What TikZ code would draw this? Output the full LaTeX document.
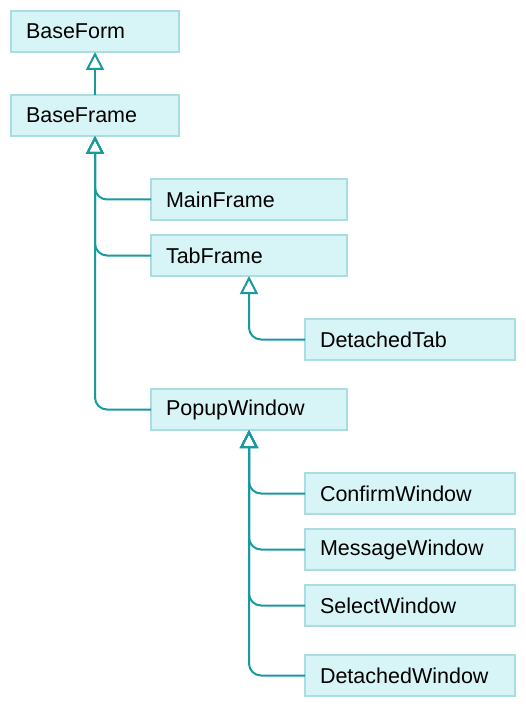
\documentclass[tikz,border=0pt]{standalone}
\usepackage{fontspec}
\setmainfont{Liberation Sans}
\usetikzlibrary{arrows.meta}
\definecolor{boxfill}{HTML}{D7F4F6}
\definecolor{boxline}{HTML}{A9DDE0}
\definecolor{edgecol}{HTML}{1A9A9E}
\begin{document}
\begin{tikzpicture}[x=1pt,y=-1pt,
  cls/.style={draw=boxline, fill=boxfill, line width=2pt, anchor=north west,
    outer sep=0pt,
    minimum height=41pt, minimum width=#1pt, text width=#1pt-30pt,
    inner xsep=15pt, inner ysep=0pt, align=left,
    font=\fontsize{21.5}{25}\selectfont},
  inh/.style={draw=edgecol, line width=2pt, rounded corners=12pt,
    -{Triangle[open, length=18pt, width=18pt, line width=2pt]}}]
\useasboundingbox (0,0) rectangle (526,708);
\node[cls=168] (baseform) at (11,11) {BaseForm};
\node[cls=168] (baseframe) at (11,95) {BaseFrame};
\node[cls=196] (mainframe) at (151,179) {MainFrame};
\node[cls=196] (tabframe) at (151,235) {TabFrame};
\node[cls=210] (detachedtab) at (305,319) {DetachedTab};
\node[cls=196] (popup) at (151,389) {PopupWindow};
\node[cls=210] (confirm) at (305,473) {ConfirmWindow};
\node[cls=210] (message) at (305,529) {MessageWindow};
\node[cls=210] (select) at (305,585) {SelectWindow};
\node[cls=210] (detachedwin) at (305,655) {DetachedWindow};
\draw[inh] (baseframe.north) -- (baseform.south);
\draw[inh] (mainframe.west) -| (baseframe.south);
\draw[inh] (tabframe.west) -| (baseframe.south);
\draw[inh] (popup.west) -| (baseframe.south);
\draw[inh] (detachedtab.west) -| (tabframe.south);
\draw[inh] (confirm.west) -| (popup.south);
\draw[inh] (message.west) -| (popup.south);
\draw[inh] (select.west) -| (popup.south);
\draw[inh] (detachedwin.west) -| (popup.south);
\end{tikzpicture}
\end{document}
